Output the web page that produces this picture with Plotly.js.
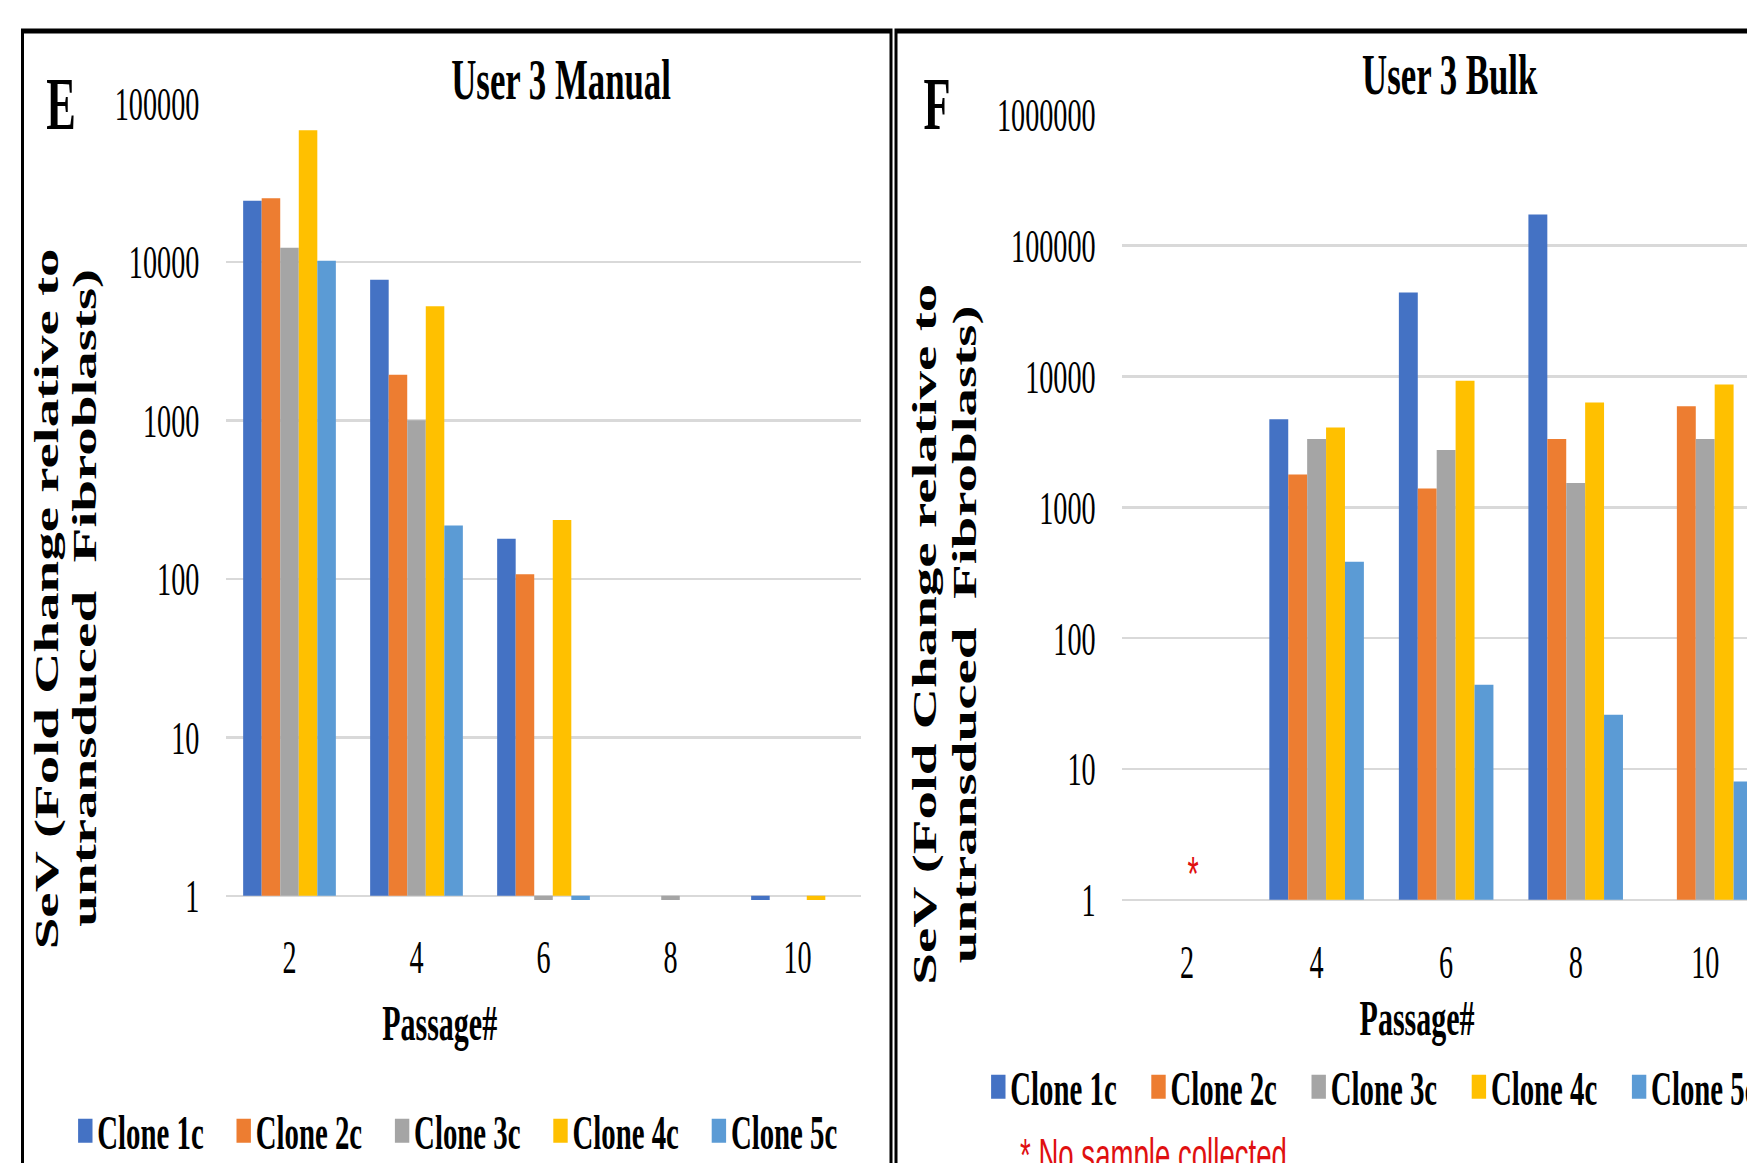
<!DOCTYPE html>
<html>
<head>
<meta charset="utf-8">
<script src="https://cdn.plot.ly/plotly-3.0.1.min.js"></script>
<style>
html, body { margin: 0; padding: 0; overflow: hidden; background: #ffffff; width: 1747px; height: 1163px; }
#wrap { position: absolute; left: 0; top: 0; transform-origin: 0 0; }
</style>
</head>
<body>
<div id="wrap"><div id="chart"></div></div>
<script>
// ---------------- data ----------------
const passages = ['2', '4', '6', '8', '10'];
const seriesNames = ['Clone 1c', 'Clone 2c', 'Clone 3c', 'Clone 4c', 'Clone 5c'];
const seriesColors = ['#4472C4', '#ED7D31', '#A5A5A5', '#FFC000', '#5B9BD5'];

// Panel E – User 3 Manual
const manualClone1c = [24300, 7700, 179, null, 0.94];
const manualClone2c = [25200, 1940, 107, null, null];
const manualClone3c = [12300, 1000, 0.94, 0.94, null];
const manualClone4c = [67800, 5240, 235, null, 0.94];
const manualClone5c = [10150, 217, 0.94, null, null];

// Panel F – User 3 Bulk (passage 2: no sample collected)
const bulkClone1c = [null, 4700, 43900, 173000, null];
const bulkClone2c = [null, 1780, 1390, 3330, 5910];
const bulkClone3c = [null, 3330, 2740, 1530, 3330];
const bulkClone4c = [null, 4070, 9290, 6320, 8690];
const bulkClone5c = [null, 383, 44, 25.9, 8.0];

const manualTickVals = [1, 10, 100, 1000, 10000, 100000];
const manualTickText = ['1', '10', '100', '1000', '10000', '100000'];
const bulkTickVals = [1, 10, 100, 1000, 10000, 100000, 1000000];
const bulkTickText = ['1', '10', '100', '1000', '10000', '100000', '1000000'];

const manualSeries = [manualClone1c, manualClone2c, manualClone3c, manualClone4c, manualClone5c];
const bulkSeries = [bulkClone1c, bulkClone2c, bulkClone3c, bulkClone4c, bulkClone5c];

// ---------------- geometry ----------------
const K = 0.6;          // horizontal squeeze of the original figure
const W = 3060, H = 1163;
const fx = px => px / K / W;
const fy = py => 1 - py / H;
document.getElementById('wrap').style.transform = 'scaleX(' + K + ')';

const SERIF = 'Liberation Serif, Times New Roman, serif';
const SANS = 'Liberation Sans, Arial, sans-serif';
const AXIS_FLOOR = 1;   // bars start at 1 on the log axis, as in the source

function barTraces(series, xa, ya, legendId) {
  return series.map((vals, i) => ({
    type: 'bar',
    name: seriesNames[i],
    x: passages,
    y: vals.map(v => (v === null ? null : v - AXIS_FLOOR)),
    base: AXIS_FLOOR,
    xaxis: xa, yaxis: ya,
    legend: legendId,
    marker: { color: seriesColors[i], line: { width: 0 } },
    hoverinfo: 'skip'
  }));
}

const traces = barTraces(manualSeries, 'x', 'y', 'legend')
  .concat(barTraces(bulkSeries, 'x2', 'y2', 'legend2'));

const tickFont = { family: SERIF, size: 47, color: '#000000' };
const xaxisCommon = {
  type: 'category', showgrid: false, showline: false, zeroline: false,
  ticks: 'outside', tickcolor: 'rgba(0,0,0,0)', tickfont: tickFont, fixedrange: true
};
const yaxisCommon = {
  type: 'log', tickmode: 'array', showline: false, zeroline: false,
  gridcolor: '#d9d9d9', gridwidth: 2.5,
  ticks: 'outside', tickcolor: 'rgba(0,0,0,0)', ticklen: 34, tickfont: tickFont, fixedrange: true
};

function ann(text, x, y, size, opts) {
  return Object.assign({
    text: text, xref: 'paper', yref: 'paper', x: fx(x), y: fy(y),
    xanchor: 'center', yanchor: 'middle', showarrow: false,
    font: { family: SERIF, size: size, color: '#000000' }
  }, opts || {});
}
const boldFont = size => ({ family: SERIF, size: size, color: '#000000', weight: 'bold' });

// index of the passage with no sample in panel F
const noSampleIndex = bulkSeries[0].findIndex((v, i) => bulkSeries.every(s => s[i] === null));

const annotations = [
  ann('E', 61, 104, 74, { font: boldFont(74) }),
  ann('F', 937, 104, 74, { font: boldFont(74) }),
  ann('User 3 Manual', 561, 80, 58, { font: boldFont(58) }),
  ann('User 3 Bulk', 1450, 74, 58, { font: boldFont(58) }),
  ann('Passage#', 440, 1023, 50, { font: boldFont(50) }),
  ann('Passage#', 1417, 1018, 50, { font: boldFont(50) }),
  ann('SeV (Fold Change relative to', 47, 599, 57, { textangle: -90, font: boldFont(57) }),
  ann('untransduced\u00a0 Fibroblasts)', 85, 598, 57, { textangle: -90, font: boldFont(57) }),
  ann('SeV (Fold Change relative to', 925, 634, 57, { textangle: -90, font: boldFont(57) }),
  ann('untransduced\u00a0 Fibroblasts)', 965, 634, 57, { textangle: -90, font: boldFont(57) }),
  {
    text: '*', xref: 'x2', yref: 'y2', x: noSampleIndex, y: 0.2, xshift: 10,
    xanchor: 'center', yanchor: 'middle', showarrow: false,
    font: { family: SANS, size: 48, color: '#e01010' }
  },
  {
    text: '* No sample collected', xref: 'paper', yref: 'paper', x: fx(1019), y: fy(1127),
    xanchor: 'left', yanchor: 'top', showarrow: false,
    font: { family: SANS, size: 46, color: '#e01010' }
  }
];

const shapes = [
  { type: 'rect', xref: 'paper', yref: 'paper', x0: fx(22.5), x1: fx(891), y0: fy(31), y1: fy(1250),
    line: { color: '#000000', width: 5 }, fillcolor: 'rgba(0,0,0,0)' },
  { type: 'rect', xref: 'paper', yref: 'paper', x0: fx(896), x1: fx(2000), y0: fy(31), y1: fy(1250),
    line: { color: '#000000', width: 5 }, fillcolor: 'rgba(0,0,0,0)' }
];

const legendFont = { family: SERIF, size: 48, color: '#000000', weight: 'bold' };

const layout = {
  width: W, height: H,
  margin: { l: 0, r: 0, t: 0, b: 0, pad: 0, autoexpand: false },
  paper_bgcolor: '#ffffff', plot_bgcolor: '#ffffff',
  barmode: 'group', bargap: 0.27, bargroupgap: 0,
  showlegend: true,
  xaxis: Object.assign({}, xaxisCommon, { domain: [fx(226), fx(861)], anchor: 'y', ticklen: 12 }),
  yaxis: Object.assign({}, yaxisCommon, {
    domain: [fy(903.7), fy(103.4)], anchor: 'x', range: [-0.05, 5],
    tickvals: manualTickVals, ticktext: manualTickText
  }),
  xaxis2: Object.assign({}, xaxisCommon, { domain: [fx(1122.3), fx(1770)], anchor: 'y2', ticklen: 14 }),
  yaxis2: Object.assign({}, yaxisCommon, {
    domain: [fy(906.3), fy(114.8)], anchor: 'x2', range: [-0.05, 6],
    tickvals: bulkTickVals, ticktext: bulkTickText
  }),
  legend: {
    orientation: 'h', x: (86.5 / K - 22) / W, xanchor: 'left', y: fy(1131), yanchor: 'middle',
    font: legendFont, bgcolor: 'rgba(0,0,0,0)', entrywidth: 219, entrywidthmode: 'pixels',
    traceorder: 'normal'
  },
  legend2: {
    orientation: 'h', x: (999.5 / K - 22) / W, xanchor: 'left', y: fy(1087), yanchor: 'middle',
    font: legendFont, bgcolor: 'rgba(0,0,0,0)', entrywidth: 222, entrywidthmode: 'pixels',
    traceorder: 'normal'
  },
  annotations: annotations,
  shapes: shapes
};

Plotly.newPlot('chart', traces, layout, { displayModeBar: false, staticPlot: true, responsive: false })
  .then(gd => {
    // enlarge legend swatches to match the source's larger squares
    gd.querySelectorAll('.legendpoints path').forEach(p => {
      p.setAttribute('d', 'M12,12H-12V-12H12Z');
    });
  });
</script>
</body>
</html>
